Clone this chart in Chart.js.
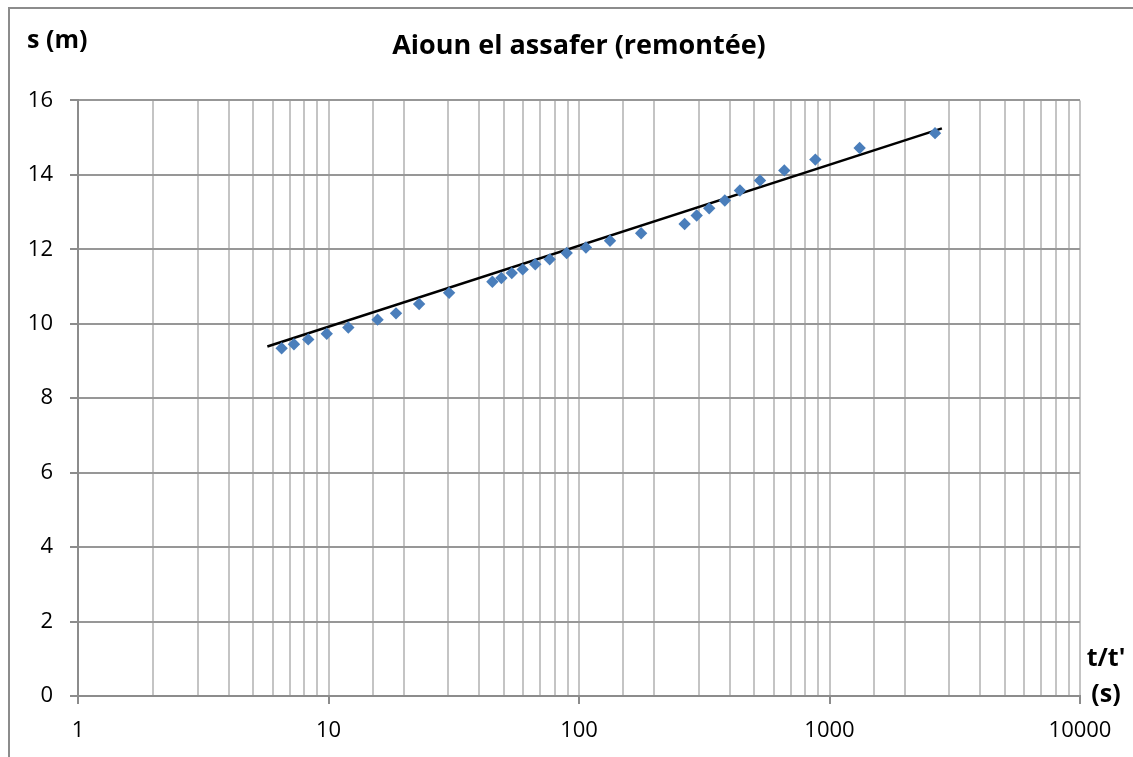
<!DOCTYPE html>
<html>
<head>
<meta charset="utf-8">
<title>Aioun el assafer (remontée)</title>
<script src="https://cdn.jsdelivr.net/npm/chart.js@4/dist/chart.umd.min.js"></script>
<style>
  body { margin: 0; background: #fff; }
  #wrap { width: 1133px; height: 757px; }
</style>
</head>
<body>
<div id="wrap"><canvas id="chart" width="1133" height="757"></canvas></div>
<script>
// Remontée : rabattement résiduel s (m) en fonction de t/t'
const tRatio = [6.5, 7.28, 8.3, 9.84, 12.0, 15.7, 18.6, 23.0, 30.3, 45.1, 49.0, 53.9, 59.6, 66.9,
                76.4, 89.3, 106.6, 133, 177, 264, 295, 331, 382, 439, 528, 660, 878, 1319, 2638];
const drawdown = [9.34, 9.45, 9.58, 9.73, 9.90, 10.11, 10.28, 10.53, 10.83, 11.13, 11.23, 11.36, 11.46, 11.60,
                  11.73, 11.90, 12.05, 12.23, 12.43, 12.68, 12.91, 13.10, 13.31, 13.58, 13.85, 14.12, 14.41, 14.72, 15.12];

// droite d'ajustement (extrémités)
const trendT = [5.7, 2810];
const trendS = [9.39, 15.25];

const xLimits = [1, 10000];
const yLimits = [0, 16];
const yStep = 2;

const FONT = '"Open Sans", Lato, sans-serif';

function isPow10(v) {
    const l = Math.log10(v);
    return Math.abs(l - Math.round(l)) < 1e-9;
}

// cadre du graphique + titres des axes
const decorPlugin = {
    id: 'decor',
    beforeDraw(chart) {
        const ctx = chart.ctx;
        ctx.save();
        ctx.strokeStyle = '#8c8c8c';
        ctx.lineWidth = 2;
        ctx.beginPath();
        ctx.moveTo(9, chart.height);
        ctx.lineTo(9, 8);
        ctx.lineTo(chart.width, 8);
        ctx.stroke();
        ctx.restore();
    },
    afterDraw(chart) {
        const ctx = chart.ctx;
        ctx.save();
        ctx.fillStyle = '#000';
        ctx.font = 'bold 25px ' + FONT;
        ctx.textBaseline = 'middle';
        ctx.textAlign = 'left';
        ctx.fillText('s (m)', 27, 41);
        ctx.textAlign = 'center';
        ctx.fillText("t/t'", 1106, 659);
        ctx.fillText('(s)', 1106, 695);
        ctx.restore();
    }
};

new Chart(document.getElementById('chart'), {
    type: 'scatter',
    data: {
        datasets: [
            {
                label: 'Mesures',
                data: tRatio.map((t, i) => ({ x: t, y: drawdown[i] })),
                pointStyle: 'rectRot',
                pointRadius: 6.2,
                backgroundColor: '#4a7ebb',
                borderColor: '#4a7ebb',
                borderWidth: 0
            },
            {
                label: 'Ajustement',
                data: trendT.map((t, i) => ({ x: t, y: trendS[i] })),
                showLine: true,
                pointRadius: 0,
                borderColor: '#000',
                borderWidth: 2.5
            }
        ]
    },
    options: {
        responsive: false,
        animation: false,
        layout: { padding: { left: 0, right: 53, top: 0, bottom: 0 } },
        plugins: {
            legend: { display: false },
            tooltip: { enabled: false },
            title: {
                display: true,
                fullSize: false,
                text: 'Aioun el assafer (remontée)',
                color: '#000',
                font: { family: FONT, size: 27, weight: 'bold' },
                padding: { top: 30, bottom: 38 }
            }
        },
        scales: {
            x: {
                type: 'logarithmic',
                min: xLimits[0],
                max: xLimits[1],
                afterFit: s => { s.height = 61; },
                ticks: {
                    autoSkip: false,
                    maxRotation: 0,
                    padding: 14,
                    color: '#000',
                    font: { family: FONT, size: 22 },
                    callback: v => isPow10(v) ? String(v) : ''
                },
                grid: {
                    color: '#c4c4c4',
                    lineWidth: 2,
                    tickLength: 8,
                    tickColor: c => (c.tick && isPow10(c.tick.value)) ? '#8c8c8c' : 'rgba(0,0,0,0)'
                },
                border: { color: '#8c8c8c', width: 2 }
            },
            y: {
                min: yLimits[0],
                max: yLimits[1],
                afterFit: s => { s.width = 78; },
                ticks: {
                    stepSize: yStep,
                    padding: 17,
                    color: '#000',
                    font: { family: FONT, size: 22 }
                },
                grid: {
                    color: '#979797',
                    lineWidth: 2,
                    tickLength: 8,
                    tickColor: '#8c8c8c'
                },
                border: { color: '#8c8c8c', width: 2 }
            }
        }
    },
    plugins: [decorPlugin]
});
</script>
</body>
</html>
